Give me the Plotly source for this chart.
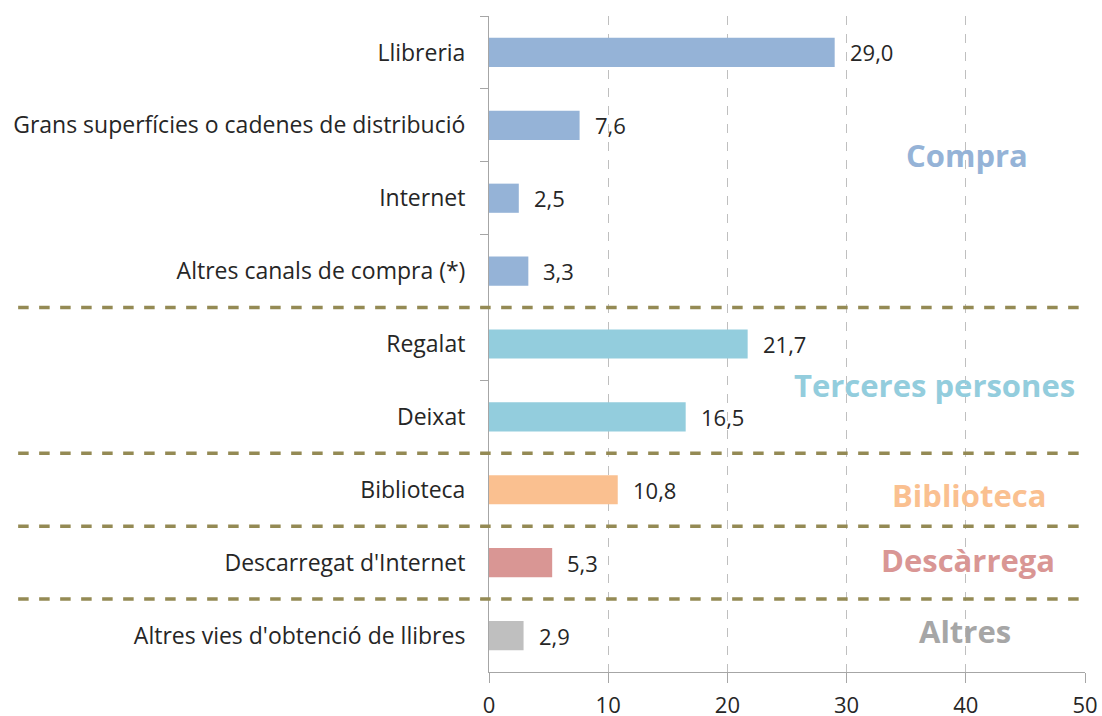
import plotly.graph_objects as go

categories = ["Llibreria", "Grans superfícies o cadenes de distribució", "Internet",
              "Altres canals de compra (*)", "Regalat", "Deixat", "Biblioteca",
              "Descarregat d'Internet", "Altres vies d'obtenció de llibres"]
values = [29.0, 7.6, 2.5, 3.3, 21.7, 16.5, 10.8, 5.3, 2.9]
bar_colors = ["#95B3D7", "#95B3D7", "#95B3D7", "#95B3D7", "#93CDDD", "#93CDDD",
              "#FAC090", "#D99694", "#BFBFBF"]
x_ticks = [0, 10, 20, 30, 40, 50]

group_labels = ["Compra", "Terceres persones", "Biblioteca", "Descàrrega", "Altres"]
group_colors = ["#95B3D7", "#93CDDD", "#FAC090", "#D99694", "#A6A6A6"]
group_x = [40.1, 37.4, 40.3, 40.2, 39.9]
group_y = [1.41, 4.56, 6.07, 6.96, 7.94]
separators_at = [3.5, 5.5, 6.5, 7.5]

FONT = "Open Sans"

fig = go.Figure()
fig.add_trace(go.Bar(
    y=categories, x=values, orientation="h",
    marker=dict(color=bar_colors, line=dict(width=0)),
    width=0.4,
    hoverinfo="x+y",
))

annotations = []
for cat, v in zip(categories, values):
    annotations.append(dict(x=v, y=cat, xref="x", yref="y",
                            text=("%.1f" % v).replace(".", ","),
                            showarrow=False, xanchor="left", yanchor="middle",
                            xshift=13, font=dict(family=FONT, size=22, color="#262626")))
for lab, col, gx, gy in zip(group_labels, group_colors, group_x, group_y):
    annotations.append(dict(x=gx, y=gy, xref="x", yref="y", text="<b>%s</b>" % lab,
                            showarrow=False, font=dict(family=FONT, size=31, color=col),
                            xanchor="center", yanchor="middle"))

shapes = []
for s in separators_at:
    shapes.append(dict(type="line", xref="paper", yref="y", x0=-0.79, x1=1.0,
                       y0=s, y1=s, line=dict(color="#948A54", width=3.5, dash="dash")))

fig.update_layout(
    width=1102, height=716,
    margin=dict(l=489, r=17, t=16, b=44, autoexpand=False),
    paper_bgcolor="white", plot_bgcolor="white",
    separators=",.",
    showlegend=False,
    shapes=shapes,
    annotations=annotations,
    xaxis=dict(range=[0, 50], tickvals=x_ticks, showgrid=True, gridcolor="#BFBFBF",
               griddash="dash", gridwidth=1, zeroline=False, automargin=False,
               showline=True, linecolor="#A6A6A6", linewidth=1,
               ticks="outside", ticklen=10, tickcolor="#A6A6A6",
               ticklabelstandoff=4,
               tickfont=dict(family=FONT, size=22, color="#262626"), fixedrange=True),
    yaxis=dict(autorange="reversed", showgrid=False, zeroline=False, automargin=False,
               showline=True, linecolor="#A6A6A6", linewidth=1,
               ticks="outside", ticklen=8, tickcolor="#A6A6A6",
               tickson="boundaries",
               tickfont=dict(family=FONT, size=23, color="#262626"),
               ticklabelstandoff=18),
)

fig.write_html("out.html", config={"displayModeBar": False},
               post_script="document.body.style.margin='0';document.body.style.overflow='hidden';")
